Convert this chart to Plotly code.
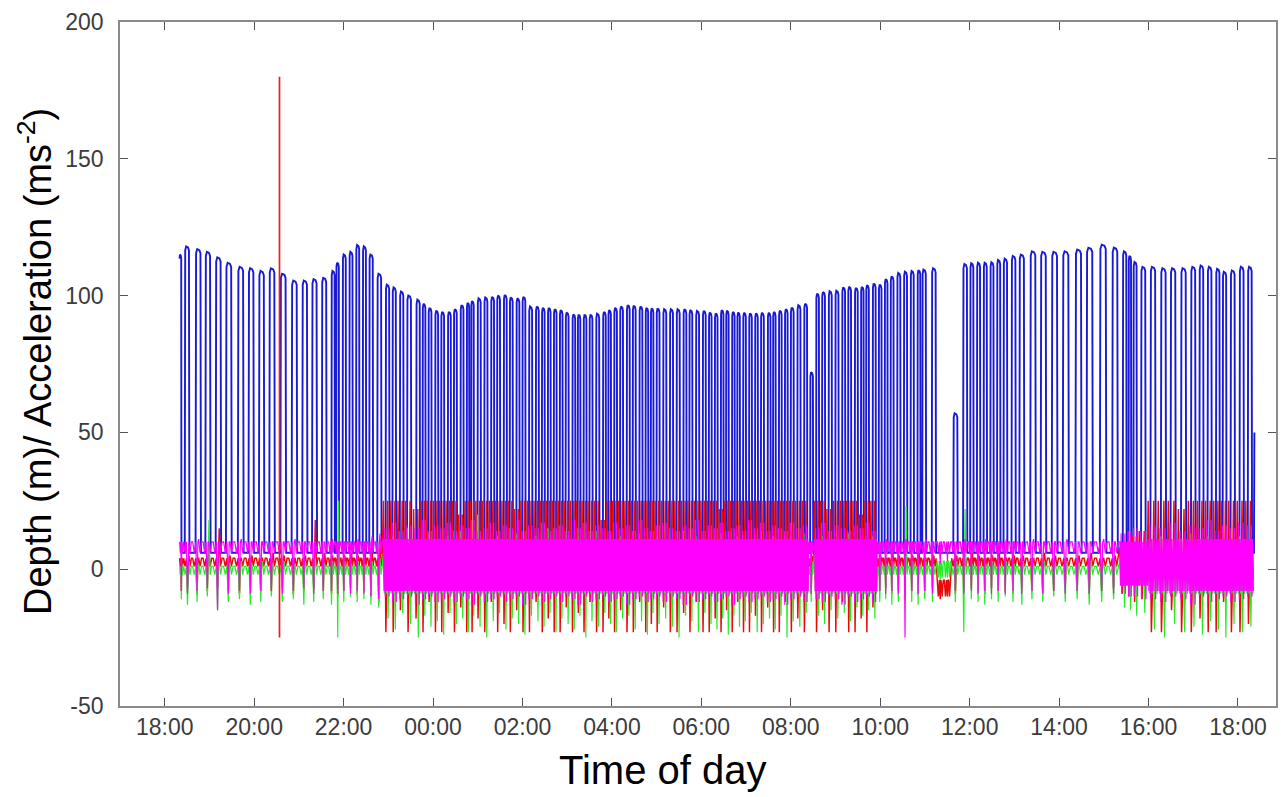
import numpy as np
import pandas as pd
import plotly.graph_objects as go

# ---------------------------------------------------------------------------
# Dive record: clock time of each dive's bottom phase and its maximum depth (m).
# None marks a slot with no dive (animal resting at the surface).
# ---------------------------------------------------------------------------
DIVE_TIME = [
    "18:21", "18:30", "18:45", "18:58", "19:12", "19:26", "19:42", "19:56", "20:10", "20:24",
    "20:39", "20:54", "21:08", "21:21", "21:34", "21:46", "21:52", "22:01", "22:10", "22:19",
    "22:28", "22:37", "22:48", "22:59", "23:08", "23:18", "23:28", "23:40", "23:48", "23:56",
    "00:05", "00:13", "00:22", "00:30", "00:39", "00:47", "00:53", "01:02", "01:11", "01:20",
    "01:28", "01:37", "01:45", "01:54", "02:02", "02:11", "02:20", "02:28", "02:36", "02:44",
    "02:52", "03:00", "03:09", "03:16", "03:24", "03:32", "03:41", "03:50", "03:57", "04:05",
    "04:13", "04:22", "04:30", "04:39", "04:47", "04:54", "05:02", "05:11", "05:20", "05:29",
    "05:38", "05:46", "05:55", "06:04", "06:12", "06:20", "06:28", "06:35", "06:43", "06:50",
    "06:58", "07:06", "07:14", "07:22", "07:31", "07:38", "07:46", "07:54", "08:02", "08:11",
    "08:20", "08:28", "08:36", "08:44", "08:53", "09:02", "09:11", "09:19", "09:28", "09:36",
    "09:43", "09:52", "10:00", "10:08", "10:16", "10:25", "10:34", "10:43", "10:52", "10:59",
    "11:12", "11:21", "11:31", "11:41", "11:54", "12:03", "12:12", "12:21", "12:30", "12:39",
    "12:48", "12:59", "13:10", "13:25", "13:39", "13:54", "14:09", "14:26", "14:41", "14:59",
    "15:15", "15:28", "15:35", "15:42", "15:53", "16:06", "16:20", "16:33", "16:47", "17:00",
    "17:11", "17:22", "17:33", "17:42", "17:53", "18:05", "18:16",
]
DIVE_DEPTH = [
    115, 118, 117, 116, 114, 112, 110.5, 110, 109, 110,
    108, 105.5, 105.5, 106, 106.5, 109, 112, 115, 116, 118.5,
    118, 115, 108, 104, 103, 101.5, 100, 98.5, 97, 95.5,
    94.5, 94, 94, 95, 96.5, 97.3, 98, 99, 99.3, 99.5,
    100, 100.2, 99.3, 99, 99.5, 96, 96, 95.5, 95.5, 95,
    94.7, 93.8, 93.1, 93, 93, 93, 93.4, 94, 94.7, 95.5,
    96, 96.5, 96.3, 96, 95.5, 95.3, 95.3, 95, 95, 95,
    95, 94.7, 94.4, 94.4, 93.8, 93.5, 94.7, 94.5, 94, 93.8,
    93.7, 93.5, 93.5, 93.7, 93.7, 94, 94.5, 95, 95.6, 96.5,
    97, 72, 100.7, 101.3, 101.6, 101.8, 103, 103.2, 102.8, 103.2,
    103.8, 104.4, 104, 106, 107, 108.3, 108.7, 109, 109.3, 109.5,
    110, None, None, 57, 111.5, 111.8, 112, 112, 112.2, 113,
    113.5, 114.5, 115, 116.2, 116, 116, 116.2, 116.8, 117.5, 118.6,
    117.5, 116.2, 114.5, 112.3, 110.5, 110.5, 110, 110, 110, 110.5,
    111, 110.5, 109.8, 108.7, 109.2, 110.5, 110.5,
]

# Activity state of each slot: q = resting, a = active swimming,
# m = moderate, b = surface bout with sustained negative surge
MODE_RUNS = [("q", 23), ("a", 68), ("q", 1), ("a", 10), ("q", 9),
             ("b", 2), ("q", 18), ("m", 4), ("a", 12)]

# Acceleration extremes (m s^-2) reached in each slot
RED_HI = [
    4, 5, 4, 6, 15, 5, 4, 5, 4, 6, 5, 4, 5, 18, 6, 5, 8, 5, 6, 5, 7, 6, 8,
    25, 25, 25, 25, 22, 25, 25, 25, 25, 25, 25, 20, 25, 25, 25, 25, 25, 25, 25, 25,
    22, 25, 25, 25, 25, 25, 25, 25, 25, 25, 25, 25, 25, 25, 18, 25, 25, 25, 25, 25,
    25, 25, 25, 25, 25, 25, 25, 25, 25, 25, 25, 25, 25, 22, 25, 25, 25, 25, 25, 25,
    25, 25, 25, 25, 25, 25, 25, 25,
    5,
    25, 25, 22, 25, 25, 25, 25, 20, 25, 25,
    5, 4, 6, 5, 4, 5, 6, 4, 5,
    -5, -4,
    5, 4, 6, 5, 4, 5, 6, 4, 5, 5, 4, 6, 5, 4, 5, 6, 4, 5,
    8, 10, 12, 14,
    25, 25, 25, 22, 25, 25, 25, 25, 25, 25, 25, 25,
]
RED_LO = [
    -8, -7, -9, -8, -7, -8, -9, -7, -8, -8, -7, -9, -8, -7, -8, -9, -10, -8, -7, -9, -8, -10, -12,
    -23, -23, -15, -23, -18, -23, -12, -23, -23, -16,
    -23, -14, -23, -23, -18, -23, -12, -23, -20, -23,
    -15, -23, -23, -12, -23, -18, -23, -23, -14, -23,
    -16, -23, -12, -23, -23, -18, -23, -15, -23, -23,
    -12, -23, -20, -23, -14, -23, -23, -16, -23, -12,
    -23, -23, -18, -23, -15, -23, -12, -23, -23, -17,
    -23, -14, -23, -23, -12, -23, -18, -23,
    -9,
    -23, -15, -23, -23, -12, -23, -23, -18, -23, -14,
    -8, -7, -9, -8, -7, -8, -9, -8, -7,
    -11, -10,
    -9, -8, -7, -8, -9, -7, -8, -8, -9, -7, -8, -9, -8, -7, -8, -9, -8, -7,
    -9, -10, -12, -11,
    -23, -23, -15, -23, -23, -18, -23, -23, -12, -23, -23, -20,
]
GREEN_HI = [
    2, 3, 2, 18, 3, 2, 3, 2, 3, 2, 3, 2, 3, 4, 2, 3, 25, 3, 2, 3, 2, 3, 4,
    10, 12, 8, 15, 10, 9, 13, 11, 8, 12,
    10, 14, 9, 11, 20, 10, 8, 12, 11, 9,
    13, 10, 8, 12, 10, 15, 9, 11, 10, 8,
    12, 10, 9, 14, 11, 8, 10, 12, 9, 11,
    13, 8, 10, 12, 9, 11, 10, 14, 8, 12,
    10, 9, 11, 13, 8, 10, 12, 9, 11, 10,
    14, 8, 12, 10, 9, 11, 10, 13,
    3,
    10, 12, 9, 11, 10, 13, 9, 11, 10, 12,
    3, 2, 3, 2, 23, 3, 2, 3, 2,
    2, 3,
    3, 22, 2, 3, 2, 3, 2, 3, 2, 3, 2, 3, 2, 3, 2, 3, 2, 3,
    5, 6, 8, 7,
    10, 12, 9, 11, 13, 10, 12, 9, 11, 10, 12, 11,
]
GREEN_LO = [
    -11, -13, -12, -10, -15, -12, -11, -13, -12, -10, -12, -11, -13, -12, -11, -13, -25, -12, -10, -12, -11, -13, -14,
    -18, -22, -16, -20, -25, -17, -21, -19, -24, -16,
    -20, -18, -23, -17, -21, -25, -19, -16, -22, -18,
    -20, -24, -17, -19, -21, -16, -23, -18, -20, -22,
    -17, -25, -19, -21, -16, -20, -23, -18, -17, -22,
    -19, -24, -16, -20, -18, -21, -25, -17, -19, -23,
    -16, -20, -22, -18, -24, -17, -21, -19, -16, -23,
    -20, -18, -22, -17, -25, -19, -21, -16,
    -12,
    -17, -20, -15, -18, -16, -19, -14, -17, -15, -18,
    -12, -11, -13, -12, -11, -12, -13, -11, -12,
    -4, -3,
    -12, -23, -11, -12, -13, -11, -12, -10, -12, -13, -11, -12, -10, -12, -11, -13, -12, -11,
    -14, -15, -17, -16,
    -22, -25, -20, -23, -21, -24, -19, -22, -25, -20, -23, -21,
]
MAG_HI = [
    10, 10, 11, 10, 10, 10, 11, 10, 10, 10, 10, 11, 10, 10, 10, 11, 10, 10, 10, 11, 10, 12, 13,
    15, 17, 14, 16, 15, 18, 14, 16, 15, 17,
    14, 16, 15, 18, 14, 15, 17, 14, 16, 15,
    18, 14, 16, 15, 17, 14, 15, 16, 14, 18,
    15, 17, 14, 16, 15, 14, 17, 15, 16, 14,
    18, 15, 14, 16, 17, 15, 14, 16, 15, 18,
    14, 16, 15, 17, 14, 15, 16, 14, 18, 15,
    17, 14, 16, 15, 14, 17, 15, 16,
    10,
    15, 17, 14, 16, 15, 14, 16, 15, 17, 14,
    10, 11, 10, 10, 11, 10, 10, 11, 10,
    10, 10,
    10, 11, 10, 10, 11, 10, 10, 11, 10, 10, 11, 10, 10, 11, 10, 10, 11, 10,
    13, 14, 15, 14,
    16, 15, 17, 14, 16, 15, 18, 14, 16, 15, 17, 16,
]
MAG_LO = [
    -8, -9, -8, -7, -15, -9, -8, -9, -8, -8, -9, -8, -7, -9, -8, -8, -9, -8, -9, -8, -9, -10, -11,
    -10, -12, -11, -10, -13, -11, -10, -12, -11, -10,
    -12, -10, -11, -13, -10, -12, -11, -10, -12, -11,
    -10, -13, -11, -10, -12, -11, -10, -12, -10, -11,
    -13, -10, -12, -11, -10, -12, -11, -10, -13, -11,
    -10, -12, -11, -10, -12, -10, -11, -13, -10, -12,
    -11, -10, -12, -11, -10, -13, -11, -10, -12, -11,
    -10, -12, -11, -10, -13, -11, -10, -12,
    -9,
    -11, -12, -10, -11, -13, -10, -12, -11, -10, -12,
    -8, -9, -8, -9, -25, -8, -9, -8, -9,
    2, 3,
    -8, -9, -8, -9, -8, -9, -8, -9, -8, -9, -8, -9, -8, -9, -8, -9, -8, -9,
    -9, -10, -10, -11,
    -11, -12, -10, -11, -13, -10, -12, -11, -10, -12, -11, -10,
]

# Dense band (top, bottom) each channel occupies between excursions, per state
BAND = {
    "red":     {"q": (4, 1),  "a": (10, -4),  "m": (6, 0),  "b": (-4, -10)},
    "green":   {"q": (1, -2), "a": (6, -9),   "m": (3, -5), "b": (3, -3)},
    "magenta": {"q": (10, 6), "a": (11, -8),  "m": (10, -6), "b": (10, 6)},
}

RED_SPIKE = ("20:34", -25, 180)   # single surge artefact: time, min, max
RECORD_END = ("18:22", 50)        # depth when logging stopped
SURFACE_DEPTH = 6

Y_TICKS = [-50, 0, 50, 100, 150, 200]
X_START, X_END = "17:00", "18:51"
TICK_FIRST, TICK_HOURS = "18:00", 2

# ---------------------------------------------------------------------------
BASE = pd.Timestamp("2009-07-01 00:00")


def clock_minutes(label):
    h, m = map(int, label.split(":"))
    return h * 60 + m


def sequential_minutes(labels):
    out, day, prev = [], 0, None
    for lab in labels:
        v = clock_minutes(lab) + day * 1440
        if prev is not None and v < prev:
            day += 1
            v += 1440
        out.append(v)
        prev = v
    return np.array(out, dtype=float)


def to_dt(mins):
    return BASE + pd.to_timedelta(np.asarray(mins, dtype=float), unit="min")


t = sequential_minutes(DIVE_TIME)
n = len(t)
modes = [m for m, k in MODE_RUNS for _ in range(k)]
for arr in (DIVE_DEPTH, RED_HI, RED_LO, GREEN_HI, GREEN_LO, MAG_HI, MAG_LO, modes):
    assert len(arr) == n, len(arr)

mid = (t[1:] + t[:-1]) / 2
win_a = np.concatenate([[t[0] - 1], mid])
win_b = np.concatenate([mid, [t[-1] + (t[-1] - t[-2]) / 2]])

# ---- depth trace ----------------------------------------------------------
bx, by = [], []
for i in range(n):
    d = DIVE_DEPTH[i]
    if d is None:
        continue
    s = win_b[i] - win_a[i]
    w, k = 0.42 * s, 0.05 * s
    pts = [(t[i] - w / 2 - k, SURFACE_DEPTH), (t[i] - w / 2, d - 1.5), (t[i] - w / 4, d),
           (t[i] + w / 4, d - 0.4), (t[i] + w / 2, d - 1.5), (t[i] + w / 2 + k, SURFACE_DEPTH)]
    if i == 0:
        pts = pts[1:]
    for px, py in pts:
        bx.append(px)
        by.append(py)
end_t = clock_minutes(RECORD_END[0])
while end_t < t[-1]:
    end_t += 1440
bx += [end_t - 0.6, end_t]
by += [SURFACE_DEPTH, RECORD_END[1]]

# ---- acceleration traces --------------------------------------------------
# Order in which each channel visits band top (T), band bottom (B), slot
# maximum (H) and slot minimum (L) across one slot.
QUIET_STEPS = [(0.0, "T"), (0.15, "B"), (0.3, "T"), (0.42, "L"), (0.5, "T"),
               (0.58, "H"), (0.7, "B"), (0.85, "T")]
ACTIVE_STEPS = {
    "red": [(0.0, "H"), (0.1, "B"), (0.22, "T"), (0.32, "L"), (0.45, "B"),
            (0.56, "H"), (0.66, "B"), (0.8, "T"), (0.9, "B")],
    "green": [(0.0, "T"), (0.12, "B"), (0.25, "H"), (0.38, "B"), (0.5, "T"),
              (0.62, "L"), (0.75, "T"), (0.88, "B")],
    "magenta": [(0.0, "T"), (0.08, "B"), (0.17, "H"), (0.25, "L"), (0.33, "T"),
                (0.42, "B"), (0.5, "T"), (0.58, "B"), (0.67, "H"), (0.75, "L"),
                (0.83, "T"), (0.92, "B")],
}


def channel(name, hi, lo):
    xs, ys = [], []
    for i in range(n):
        mode = modes[i]
        top, bot = BAND[name][mode]
        steps = ACTIVE_STEPS[name] if mode in ("a", "m") else QUIET_STEPS
        vals = {"T": top, "B": bot, "H": hi[i], "L": lo[i]}
        for f, key in steps:
            xs.append(win_a[i] + f * (win_b[i] - win_a[i]))
            ys.append(vals[key])
    return np.array(xs), np.array(ys, dtype=float)


rx, ry = channel("red", RED_HI, RED_LO)
gx, gy = channel("green", GREEN_HI, GREEN_LO)
mx, my = channel("magenta", MAG_HI, MAG_LO)

spike_t = clock_minutes(RED_SPIKE[0])
while spike_t < t[0]:
    spike_t += 1440

# ---- figure ---------------------------------------------------------------
fig = go.Figure()
fig.add_trace(go.Scatter(x=to_dt(bx), y=by, mode="lines",
                         line=dict(color="rgb(26,26,212)", width=1.9), name="Depth"))
fig.add_trace(go.Scatter(x=to_dt(rx), y=ry, mode="lines",
                         line=dict(color="rgb(235,10,10)", width=1.45), name="Surge"))
fig.add_trace(go.Scatter(x=to_dt(gx), y=gy, mode="lines",
                         line=dict(color="rgb(40,235,40)", width=1.2), name="Heave"))
fig.add_trace(go.Scatter(x=to_dt(mx), y=my, mode="lines",
                         line=dict(color="rgb(255,0,255)", width=1.2), name="Sway"))
fig.add_trace(go.Scatter(x=to_dt([spike_t, spike_t]), y=[RED_SPIKE[1], RED_SPIKE[2]],
                         mode="lines", line=dict(color="rgb(238,30,30)", width=1.7),
                         name="Surge artefact"))

x0 = BASE + pd.Timedelta(minutes=clock_minutes(X_START))
x1 = BASE + pd.Timedelta(minutes=clock_minutes(X_END) + 1440)
tick0 = BASE + pd.Timedelta(minutes=clock_minutes(TICK_FIRST))

axis_style = dict(showline=True, linecolor="#8a8a8a", linewidth=1.6, mirror="ticks",
                  ticks="inside", ticklen=8, tickwidth=1.3, tickcolor="#555555",
                  showgrid=False, zeroline=False,
                  tickfont=dict(family="Liberation Sans, Arial", size=23, color="#3c3c3c"))

fig.update_layout(
    width=1281, height=797,
    margin=dict(l=120, r=3, t=22, b=91),
    paper_bgcolor="white", plot_bgcolor="white",
    showlegend=False,
    xaxis=dict(range=[x0, x1], tick0=tick0, dtick=TICK_HOURS * 3600 * 1000,
               tickformat="%H:%M", **axis_style),
    yaxis=dict(range=[Y_TICKS[0], Y_TICKS[-1]], tickvals=Y_TICKS,
               ticktext=[str(v) for v in Y_TICKS], ticklabelstandoff=10, **axis_style),
    annotations=[
        dict(text="Time of day", xref="paper", yref="paper", x=0.469, y=-0.094,
             xanchor="center", yanchor="middle", showarrow=False,
             font=dict(family="Liberation Sans, Arial", size=40, color="black")),
        dict(text="Depth (m)/ Acceleration (ms<sup>-2</sup>)", xref="paper", yref="paper",
             x=-0.0735, y=0.503, xanchor="center", yanchor="middle", textangle=-90,
             showarrow=False,
             font=dict(family="Liberation Sans, Arial", size=38, color="black")),
    ],
)

fig.write_html("out.html")
